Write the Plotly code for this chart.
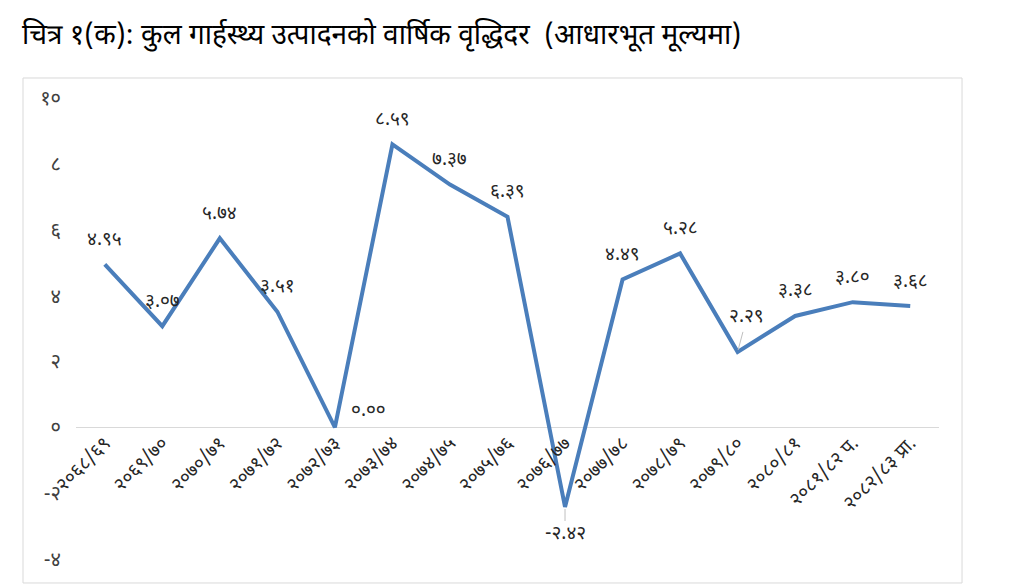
import plotly.graph_objects as go

# fiscal years (Bikram Sambat), as printed on the x axis
years = [
    "२०६८/६९", "२०६९/७०", "२०७०/७१", "२०७१/७२", "२०७२/७३",
    "२०७३/७४", "२०७४/७५", "२०७५/७६", "२०७६/७७", "२०७७/७८",
    "२०७८/७९", "२०७९/८०", "२०८०/८१", "२०८१/८२ प.", "२०८२/८३ प्रा.",
]
# annual GDP growth at basic prices (%)
growth = [4.95, 3.07, 5.74, 3.51, 0.00, 8.59, 7.37, 6.39, -2.42,
          4.49, 5.28, 2.29, 3.38, 3.80, 3.68]

y_ticks = [-4, -2, 0, 2, 4, 6, 8, 10]

DEV = str.maketrans("0123456789", "०१२३४५६७८९")


def dev(s):
    return str(s).translate(DEV)


y_min, y_max = -4, 10
line_color = "#4A7EBB"
font = "Noto Sans Devanagari, Noto Sans, sans-serif"

fig = go.Figure()

fig.add_trace(go.Scatter(
    x=list(range(len(years))),
    y=growth,
    mode="lines",
    line=dict(color=line_color, width=4),
    hoverinfo="skip",
))

# data labels: mostly above the point, a few moved as in the original
special = {
    4: dict(xshift=34, yshift=16),
    8: dict(showarrow=True, ax=0, ay=28),
    11: dict(showarrow=True, ax=9, ay=-34),
}
for i, v in enumerate(growth):
    opts = dict(showarrow=False, yshift=24)
    opts.update(special.get(i, {}))
    if opts.get("showarrow"):
        opts.pop("yshift", None)
        opts.update(arrowhead=0, arrowwidth=1, arrowcolor="#bfbfbf",
                    standoff=2, startstandoff=0)
    fig.add_annotation(
        x=i, y=v, xref="x", yref="y",
        text=dev(f"{v:.2f}"),
        font=dict(family=font, size=19, color="#262626"),
        **opts,
    )

# outer chart frame
fig.add_shape(
    type="rect", xref="paper", yref="paper",
    x0=-0.0614, x1=1.0267, y0=-0.052, y1=1.0434,
    line=dict(color="#d9d9d9", width=1), fillcolor="rgba(0,0,0,0)",
    layer="below",
)

fig.update_layout(
    width=1026, height=586,
    margin=dict(l=68, r=95, t=90, b=35),
    paper_bgcolor="white",
    plot_bgcolor="white",
    showlegend=False,
    title=dict(
        text="चित्र १(क): कुल गार्हस्थ्य उत्पादनको वार्षिक वृद्धिदर  (आधारभूत मूल्यमा)",
        xref="container", yref="container",
        x=0.0136, xanchor="left", y=0.955, yanchor="middle",
        font=dict(family=font, size=28, color="black"),
    ),
    xaxis=dict(
        tickmode="array",
        tickvals=list(range(len(years))),
        ticktext=years,
        range=[-0.5, len(years) - 0.5],
        anchor="free",
        position=(0 - y_min) / (y_max - y_min),
        tickangle=-45,
        showgrid=False,
        showline=False,
        zeroline=False,
        ticks="",
        tickfont=dict(family=font, size=19, color="#262626"),
    ),
    yaxis=dict(
        range=[y_min, y_max],
        tickmode="array",
        tickvals=y_ticks,
        ticktext=[("-" + dev(-t)) if t < 0 else dev(t) for t in y_ticks],
        showgrid=False,
        zeroline=True,
        zerolinecolor="#d9d9d9",
        zerolinewidth=1,
        showline=False,
        ticks="",
        ticklabelstandoff=14,
        tickfont=dict(family=font, size=20, color="#404040"),
    ),
)

fig.write_html("out.html")
